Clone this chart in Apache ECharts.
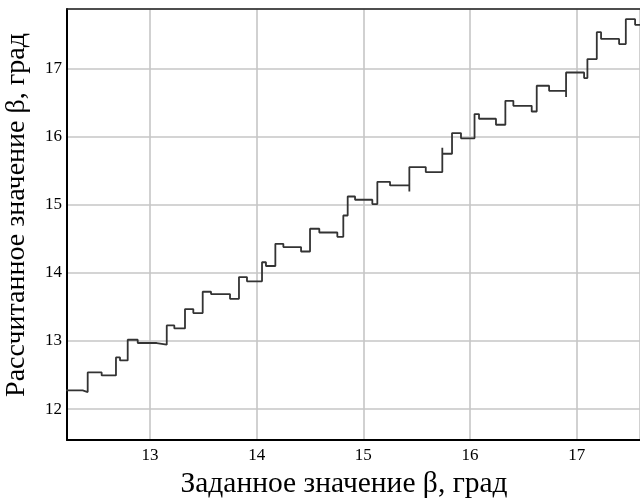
<!DOCTYPE html>
<html>
<head>
<meta charset="utf-8">
<script src="https://cdn.jsdelivr.net/npm/echarts@6/dist/echarts.min.js"></script>
<style>
  html, body { margin: 0; padding: 0; background: #fff; }
  #chart { width: 640px; height: 499px; }
</style>
</head>
<body>
<div id="chart"></div>
<script>
// start of every horizontal step (set value) and its level (computed value)
// a repeated x means a short spike at that step
const stepX = [12.20, 12.369, 12.416, 12.547, 12.681, 12.719, 12.791, 12.885, 13.063, 13.157,
  13.228, 13.328, 13.406, 13.494, 13.572, 13.750, 13.834, 13.909, 14.050, 14.087,
  14.175, 14.250, 14.416, 14.500, 14.587, 14.756, 14.812, 14.853, 14.922, 15.084,
  15.131, 15.250, 15.431, 15.431, 15.585, 15.740, 15.740, 15.831, 15.915, 16.042,
  16.084, 16.243, 16.331, 16.406, 16.578, 16.625, 16.741, 16.900, 16.900, 17.069,
  17.100, 17.188, 17.228, 17.397, 17.460, 17.547, 17.62];
const stepY = [12.273, 12.250, 12.538, 12.494, 12.758, 12.714, 13.018, 12.970, 12.945, 13.228,
  13.184, 13.469, 13.410, 13.723, 13.689, 13.620, 13.939, 13.877, 14.157, 14.102,
  14.428, 14.380, 14.315, 14.649, 14.594, 14.531, 14.844, 15.123, 15.075, 15.012,
  15.339, 15.285, 15.197, 15.555, 15.482, 15.839, 15.751, 16.055, 15.978, 16.334,
  16.265, 16.177, 16.529, 16.456, 16.372, 16.750, 16.676, 16.584, 16.945, 16.863,
  17.142, 17.538, 17.439, 17.362, 17.729, 17.645, 17.645];

const xTicks = [13, 14, 15, 16, 17];
const yTicks = [12, 13, 14, 15, 16, 17];
const xRange = [12.222, 17.593];
const yRange = [11.545, 17.878];

const xName = 'Заданное значение β, град';
const yName = 'Рассчитанное значение β, град';

const font = '"Liberation Serif", "DejaVu Serif", serif';

const chart = echarts.init(document.getElementById('chart'));

const tickFmt = (list) => (v) => (list.some(t => Math.abs(t - v) < 1e-6) ? String(Math.round(v)) : '');

const option = {
  animation: false,
  backgroundColor: '#fff',
  grid: { left: 67, right: 0, top: 9, bottom: 59, containLabel: false, outerBoundsMode: 'none' },
  xAxis: [
    {
      type: 'value',
      min: xRange[0],
      max: xRange[1],
      minInterval: 1,
      maxInterval: 1,
      name: xName,
      nameLocation: 'middle',
      nameGap: 25,
      nameTextStyle: { fontFamily: font, fontSize: 29.5, color: '#000', padding: [0, 19, 0, 0] },
      axisLine: { show: true, onZero: false, lineStyle: { color: '#000', width: 2 } },
      axisTick: { show: false },
      axisLabel: {
        fontFamily: font, fontSize: 17, color: '#000', margin: 7,
        showMinLabel: false, showMaxLabel: false,
        formatter: tickFmt(xTicks)
      },
      splitLine: { show: true, lineStyle: { color: '#c6c6c6', width: 1.6 } }
    },
    {
      type: 'value',
      position: 'top',
      min: xRange[0],
      max: xRange[1],
      axisLine: { show: true, onZero: false, lineStyle: { color: '#222', width: 1.6 } },
      axisTick: { show: false },
      axisLabel: { show: false },
      splitLine: { show: false }
    }
  ],
  yAxis: {
    type: 'value',
    min: yRange[0],
    max: yRange[1],
    minInterval: 1,
    maxInterval: 1,
    name: yName,
    nameLocation: 'middle',
    nameGap: 36,
    nameTextStyle: { fontFamily: font, fontSize: 28, color: '#000', padding: [0, 0, 0, 19] },
    axisLine: { show: true, onZero: false, lineStyle: { color: '#000', width: 2 } },
    axisTick: { show: false },
    axisLabel: {
      fontFamily: font, fontSize: 17, color: '#000', margin: 5,
      showMinLabel: false, showMaxLabel: false,
      formatter: tickFmt(yTicks)
    },
    splitLine: { show: true, lineStyle: { color: '#c6c6c6', width: 1.6 } }
  },
  series: [
    {
      type: 'line',
      xAxisIndex: 0,
      step: 'end',
      symbol: 'none',
      data: stepX.map((x, i) => [x, stepY[i]]),
      lineStyle: { color: '#333', width: 1.8 }
    }
  ]
};

chart.setOption(option);
</script>
</body>
</html>
